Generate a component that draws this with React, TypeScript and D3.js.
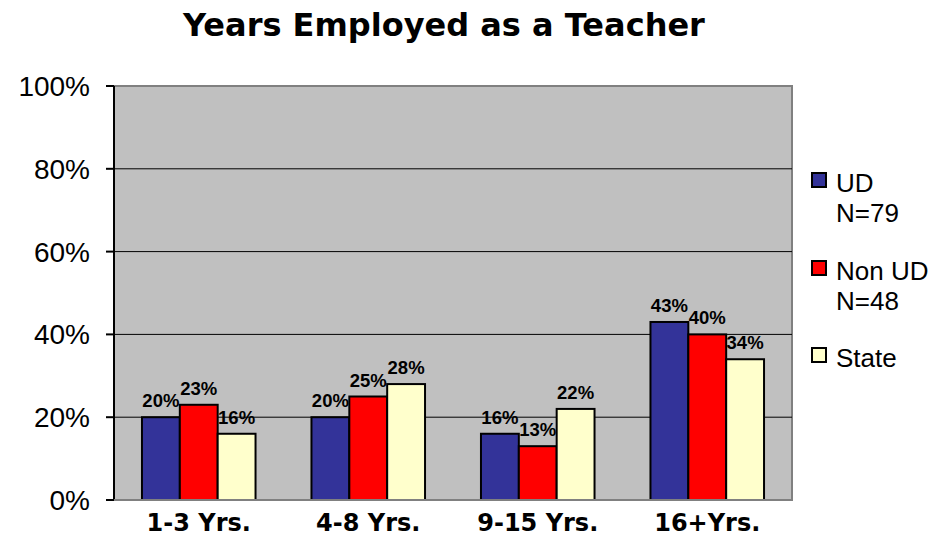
import { useMemo } from "react";
import * as d3 from "d3";

const categories = ["1-3 Yrs.", "4-8 Yrs.", "9-15 Yrs.", "16+Yrs."];
const seriesNames = ["UD", "Non UD", "State"];
const legendLines = [["UD", "N=79"], ["Non UD", "N=48"], ["State"]];
const seriesColors = ["#333399", "#FF0000", "#FFFFCC"];
const udValues = [20, 20, 16, 43];
const nonUdValues = [23, 25, 13, 40];
const stateValues = [16, 28, 22, 34];
const yTicks = [0, 20, 40, 60, 80, 100];

const W = 949;
const H = 536;
const plot = { left: 114, right: 792, top: 86, bottom: 500 };

export default function App() {
  const series = [udValues, nonUdValues, stateValues];

  const x = useMemo(
    () =>
      d3
        .scaleBand<string>()
        .domain(categories)
        .range([plot.left, plot.right])
        .paddingInner(0.33)
        .paddingOuter(0.165),
    []
  );
  const xInner = useMemo(
    () => d3.scaleBand<string>().domain(seriesNames).range([0, x.bandwidth()]),
    [x]
  );
  const y = useMemo(
    () => d3.scaleLinear().domain([0, 100]).range([plot.bottom, plot.top]),
    []
  );

  const sans = "Arial, 'Liberation Sans', sans-serif";
  const wide = "'DejaVu Sans', Verdana, sans-serif";

  return (
    <svg width={W} height={H} style={{ position: "absolute", left: 0, top: 0 }}>
      <rect width={W} height={H} fill="#ffffff" />
      <text
        x={444}
        y={36}
        textAnchor="middle"
        fontFamily={wide}
        fontWeight="bold"
        fontSize={32}
      >
        Years Employed as a Teacher
      </text>

      {/* plot area */}
      <rect
        x={plot.left}
        y={plot.top}
        width={plot.right - plot.left}
        height={plot.bottom - plot.top}
        fill="#C0C0C0"
        stroke="#808080"
        strokeWidth={2}
      />
      {yTicks
        .filter((t) => t > 0 && t < 100)
        .map((t) => (
          <line
            key={t}
            x1={plot.left}
            x2={plot.right}
            y1={y(t)}
            y2={y(t)}
            stroke="#000"
            strokeWidth={1}
          />
        ))}

      {/* bars */}
      {categories.map((cat, ci) => (
        <g key={cat} transform={`translate(${x(cat)},0)`}>
          {seriesNames.map((name, si) => {
            const v = series[si][ci];
            const bx = xInner(name) ?? 0;
            return (
              <rect
                key={name}
                x={bx}
                y={y(v)}
                width={xInner.bandwidth()}
                height={y(0) - y(v)}
                fill={seriesColors[si]}
                stroke="#000"
                strokeWidth={2}
              />
            );
          })}
        </g>
      ))}
      {categories.map((cat, ci) => (
        <g key={cat + "-lab"} transform={`translate(${x(cat)},0)`}>
          {seriesNames.map((name, si) => {
            const v = series[si][ci];
            const bx = (xInner(name) ?? 0) + xInner.bandwidth() / 2;
            return (
              <text
                key={name}
                x={bx}
                y={y(v) - 10}
                textAnchor="middle"
                fontFamily={sans}
                fontWeight="bold"
                fontSize={18.5}
                fill="#000"
              >
                {v}%
              </text>
            );
          })}
        </g>
      ))}

      {/* axes */}
      <line x1={plot.left} x2={plot.left} y1={plot.top} y2={plot.bottom} stroke="#000" strokeWidth={2} />
      <line x1={plot.left} x2={plot.right} y1={plot.bottom} y2={plot.bottom} stroke="#808080" strokeWidth={2} />
      {yTicks.map((t) => (
        <g key={t}>
          <line x1={plot.left - 8} x2={plot.left} y1={y(t)} y2={y(t)} stroke="#000" strokeWidth={2} />
          <text
            x={90}
            y={y(t) + 10}
            textAnchor="end"
            fontFamily={sans}
            fontSize={28}
            fill="#000"
          >
            {t}%
          </text>
        </g>
      ))}
      {categories.map((cat) => (
        <text
          key={cat}
          x={(x(cat) ?? 0) + x.bandwidth() / 2}
          y={531}
          textAnchor="middle"
          fontFamily={wide}
          fontWeight="bold"
          fontSize={24}
          fill="#000"
        >
          {cat}
        </text>
      ))}

      {/* legend */}
      {legendLines.map((lines, i) => {
        const base = [192, 280, 367][i];
        return (
          <g key={i}>
            <rect
              x={812}
              y={base - 19}
              width={14}
              height={14}
              fill={seriesColors[i]}
              stroke="#000"
              strokeWidth={2}
            />
            {lines.map((ln, li) => (
              <text
                key={li}
                x={836}
                y={base + li * 30}
                fontFamily={sans}
                fontSize={26}
                fill="#000"
              >
                {ln}
              </text>
            ))}
          </g>
        );
      })}
    </svg>
  );
}
